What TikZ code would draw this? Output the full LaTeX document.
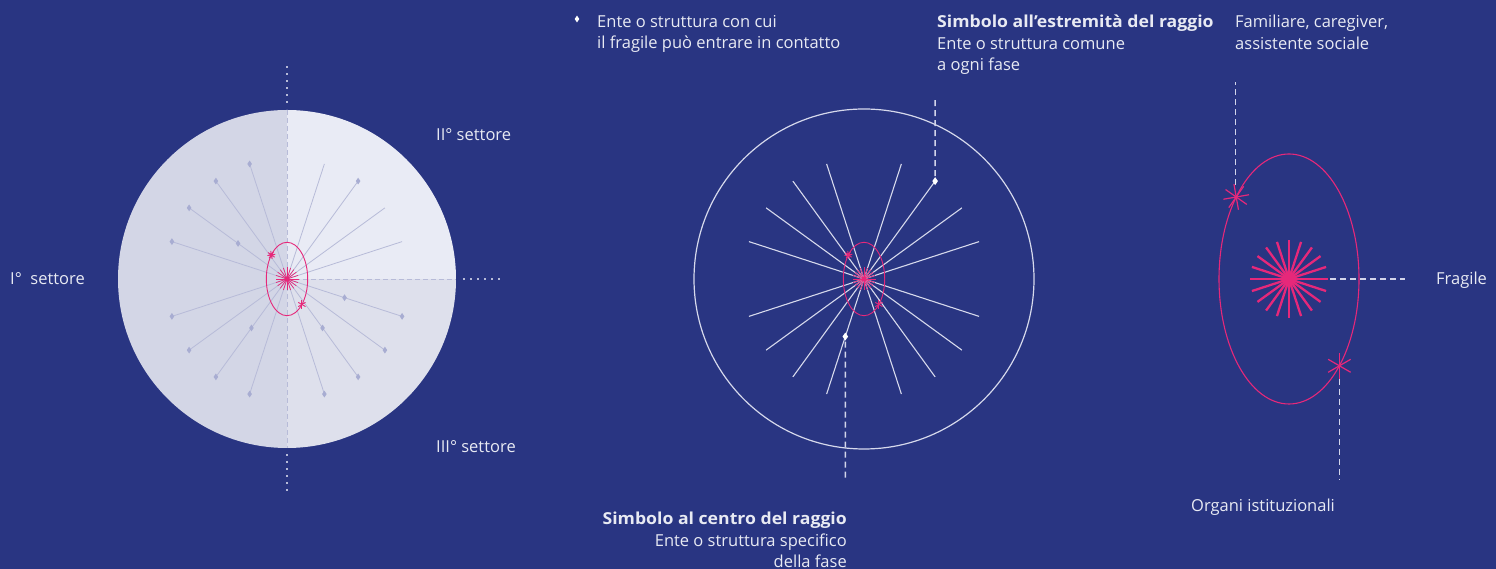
\documentclass[tikz,border=0pt]{standalone}
\usepackage{fontspec}
\setmainfont{Open Sans}[BoldFeatures={FakeStretch=1.07}]
\usetikzlibrary{calc}
\definecolor{bg}{RGB}{41,53,130}
\definecolor{pinkc}{RGB}{230,40,122}
\definecolor{halfL}{RGB}{211,214,230}
\definecolor{halfUR}{RGB}{233,235,245}
\definecolor{halfLR}{RGB}{222,224,236}
\definecolor{raylt}{RGB}{183,187,216}
\definecolor{dmdc}{RGB}{168,173,210}
\definecolor{txt}{RGB}{232,234,243}
\definecolor{wray}{RGB}{214,217,236}
\definecolor{lead}{RGB}{210,213,234}
\newcommand\myburst[4]{\foreach \a in {0,18,...,342}{\draw[pinkc,line width=#4] (#1,#2) -- ++(\a:#3);}}
\newcommand\myeight[4]{\foreach \a in {10,55,100,145}{\draw[pinkc,line width=#4] (#1,#2) ++(\a:#3) -- ++(\a+180:2*#3);}}
\newcommand\mysix[4]{\foreach \a in {30,90,150}{\draw[pinkc,line width=#4] (#1,#2) ++(\a:#3) -- ++(\a+180:2*#3);}}
\tikzset{
  lbl/.style={text=txt, font=\fontsize{16.5}{21.5}\selectfont, inner sep=0pt},
  dmd/.pic={\fill (0,3.4)--(2.3,0)--(0,-3.4)--(-2.3,0)--cycle;},
  wdmd/.pic={\fill (0,4)--(2.8,0)--(0,-4)--(-2.8,0)--cycle;},
  leader/.style={lead, line width=1.4pt, dash pattern=on 6pt off 4pt},
  axisdash/.style={raylt, line width=0.9pt, dash pattern=on 5pt off 3pt},
  axisdot/.style={raylt, line width=1.6pt, dash pattern=on 1.6pt off 5.4pt},
  pinkell/.style={pinkc, line width=0.9pt}
}
\begin{document}
\begin{tikzpicture}[x=1pt,y=1pt]
\useasboundingbox (0,0) rectangle (1496,569);
\fill[bg] (0,0) rectangle (1496,569);

% ---------- left figure ----------
\begin{scope}[shift={(287,290)}]
  \begin{scope}
    \clip (0,0) circle (169);
    \fill[halfL] (-170,-170) rectangle (0,170);
    \fill[halfUR] (0,0) rectangle (170,170);
    \fill[halfLR] (0,-170) rectangle (170,0);
  \end{scope}
  \foreach \a in {18,36,54,72,108,126,144,162,198,216,234,252,288,306,324,342}
    \draw[raylt, line width=0.8pt] (0,0) -- (\a:121);
  \foreach \a in {54,108,126,144,162,198,216,234,252,288,306,324,342}
    \pic[dmdc] at (\a:121) {dmd};
  \foreach \a in {144,234,306,342}
    \pic[dmdc] at (\a:60.5) {dmd};
  \draw[axisdash] (0,169) -- (0,-169);
  \draw[axisdash] (0,0) -- (169,0);
  \draw[axisdot] (0,176) -- (0,213);
  \draw[axisdot] (0,-175) -- (0,-212);
  \draw[axisdot] (176,0) -- (213,0);
  \draw[pinkell] (0,0) ellipse [x radius=20.7, y radius=36.7];
  \myburst{0}{0}{11.5}{0.7pt}
  \fill[pinkc] (0,0) circle (2.5);
  \myeight{-15.6}{24.1}{4}{0.9pt}
  \fill[pinkc] (-15.6,24.1) circle (2);
  \mysix{14.9}{-25.5}{4.2}{0.9pt}
\end{scope}
\node[lbl, anchor=base west] (s1) at (10,284) {I°~ settore};
\node[lbl, anchor=base west] (s2) at (436,428) {II° settore};
\node[lbl, anchor=base west] (s3) at (436,116) {III° settore};

% ---------- middle figure ----------
\begin{scope}[shift={(864,290)}]
  \draw[wray, line width=1.2pt] (0,0) circle (170);
  \foreach \a in {18,36,54,72,108,126,144,162,198,216,234,252,288,306,324,342}
    \draw[wray, line width=1.1pt] (0,0) -- (\a:121);
  \draw[pinkell] (0,0) ellipse [x radius=20.7, y radius=36.7];
  \myburst{0}{0}{11.5}{0.7pt}
  \fill[pinkc] (0,0) circle (2.5);
  \myeight{-15.6}{24.1}{4}{0.9pt}
  \fill[pinkc] (-15.6,24.1) circle (2);
  \mysix{14.9}{-25.5}{4.2}{0.9pt}
  \pic[white] at (54:121) {wdmd};
  \pic[white] at (252:60.5) {wdmd};
  \coordinate (mEnd) at ($(54:121)+(0,5)$);
  \coordinate (mMid) at ($(252:60.5)+(0,-5)$);
\end{scope}
\coordinate (mEndTop) at (935.1,472);
\coordinate (mMidBot) at (845.3,89);
\draw[leader] (mEnd) -- (mEndTop);
\draw[leader] (mMid) -- (mMidBot);

% ---------- right figure ----------
\begin{scope}[shift={(1289,290)}]
  \draw[pinkc, line width=1.1pt] (0,0) ellipse [x radius=70, y radius=125];
  \myburst{0}{0}{39}{2.3pt}
  \fill[pinkc] (0,0) circle (5);
  \myeight{-52.8}{82}{13}{1.2pt}
  \mysix{50.4}{-86.8}{13}{1.2pt}
  \coordinate (rTop) at (-53.5,94);
  \coordinate (rBot) at (50.4,-100);
  \coordinate (rMid) at (41,0);
\end{scope}
\coordinate (rTopEnd) at (1235.5,487);
\coordinate (rBotEnd) at (1339.4,89);
\coordinate (rMidEnd) at (1405,290);
\draw[leader] (rTop) -- (rTopEnd);
\draw[leader] (rBot) -- (rBotEnd);
\draw[leader] (rMid) -- (rMidEnd);

% ---------- labels ----------
\pic[white] at (577,550) {dmd};
\node[lbl, anchor=north west, align=left] (legend) at (597,554) {Ente o struttura con cui\\il fragile può entrare in contatto};
\node[lbl, anchor=north west, align=left] (endlbl) at (937,554) {\textbf{Simbolo all’estremità del raggio}\\Ente o struttura comune\\a ogni fase};
\node[lbl, anchor=north west, align=left] (fam) at (1235,554) {Familiare, caregiver,\\assistente sociale};
\node[lbl, anchor=north east, align=right] (midlbl) at (847,57) {\textbf{Simbolo al centro del raggio}\\Ente o struttura specifico\\della fase};
\node[lbl, anchor=base] (org) at (1263,57) {Organi istituzionali};
\node[lbl, anchor=base west] (frag) at (1436,284) {Fragile};
\end{tikzpicture}
\end{document}
